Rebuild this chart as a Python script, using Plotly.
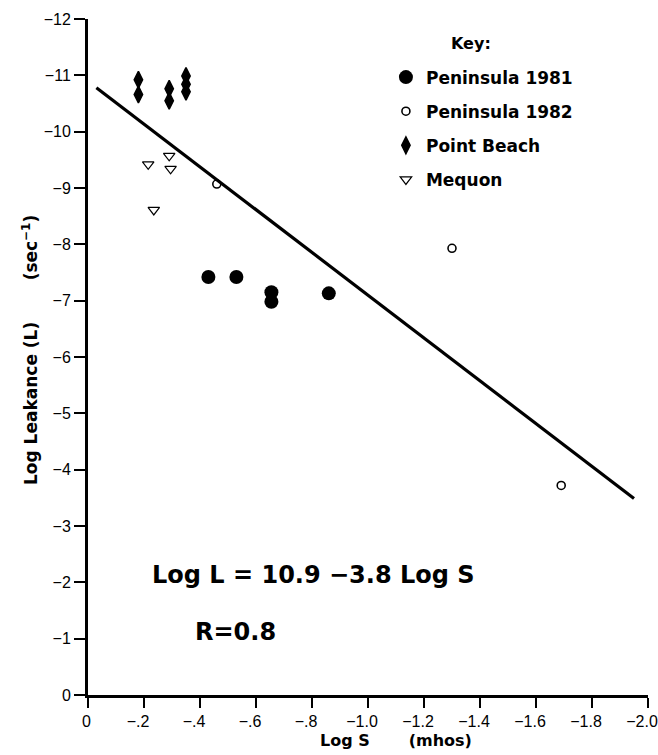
import plotly.graph_objects as go

# ---- data ----
pen81_x = [-0.43, -0.53, -0.655, -0.655, -0.86]
pen81_y = [-7.42, -7.42, -7.15, -6.98, -7.13]

pen82_x = [-0.46, -1.30, -1.69]
pen82_y = [-9.07, -7.93, -3.72]

pb_x = [-0.18, -0.18, -0.29, -0.29, -0.35, -0.35, -0.35]
pb_y = [-10.92, -10.66, -10.76, -10.55, -10.99, -10.84, -10.71]

meq_x = [-0.215, -0.29, -0.295, -0.235]
meq_y = [-9.42, -9.57, -9.34, -8.61]

fit_x = [-0.03, -1.95]
fit_y = [-10.78, -3.49]

x_ticks = [0, -0.2, -0.4, -0.6, -0.8, -1.0, -1.2, -1.4, -1.6, -1.8, -2.0]
x_ticktext = ["\u00a0\u00a00", "\u2212.2", "\u2212.4", "\u2212.6", "\u2212.8", "\u22121.0",
              "\u22121.2", "\u22121.4", "\u22121.6", "\u22121.8", "\u22122.0"]
y_ticks = [0, -1, -2, -3, -4, -5, -6, -7, -8, -9, -10, -11, -12]
y_ticktext = ["0"] + ["\u2212%d" % k for k in range(1, 13)]

BOLD = "DejaVu Sans"
NB = "\u00a0"

fig = go.Figure()

fig.add_trace(go.Scatter(x=fit_x, y=fit_y, mode="lines",
                         line=dict(color="black", width=3.2),
                         showlegend=False, hoverinfo="skip"))

fig.add_trace(go.Scatter(x=pen81_x, y=pen81_y, mode="markers", name="Peninsula 1981",
                         legendgroup="a",
                         marker=dict(symbol="circle", size=14, color="black")))
fig.add_trace(go.Scatter(x=pen82_x, y=pen82_y, mode="markers", name="Peninsula 1982",
                         legendgroup="b",
                         marker=dict(symbol="circle-open", size=8, color="black",
                                     line=dict(width=1.6, color="black"))))
fig.add_trace(go.Scatter(x=pb_x, y=pb_y, mode="markers", name="Point Beach",
                         legendgroup="c",
                         marker=dict(symbol="diamond-tall", size=12, color="black",
                                     line=dict(width=1.5, color="black"))))
fig.add_trace(go.Scatter(x=meq_x, y=meq_y, mode="markers", name="Mequon",
                         legendgroup="d",
                         marker=dict(symbol="triangle-down-open", size=10, color="black",
                                     line=dict(width=1.2, color="black"))))

fig.update_layout(
    width=658, height=755,
    margin=dict(l=88, r=10, t=19, b=60, autoexpand=False),
    paper_bgcolor="white", plot_bgcolor="white",
    font=dict(family="Liberation Sans", color="black", size=16),
    legend=dict(x=0.532, y=0.94, xanchor="left", yanchor="top",
                font=dict(family=BOLD, size=17, color="black", weight="bold"),
                tracegroupgap=9, itemwidth=30, bgcolor="rgba(0,0,0,0)"),
    xaxis=dict(range=[0, -2.0], tickvals=x_ticks, ticktext=x_ticktext,
               showgrid=False, zeroline=False, showline=True, linewidth=3,
               linecolor="black", ticks="outside", ticklen=10, tickwidth=2,
               tickcolor="black", tickfont=dict(size=16), automargin=False,
               ticklabelshift=6, ticklabeloverflow="allow"),
    yaxis=dict(range=[0, -12], tickvals=y_ticks, ticktext=y_ticktext,
               showgrid=False, zeroline=False, showline=True, linewidth=3,
               linecolor="black", ticks="outside", ticklen=11, tickwidth=2,
               tickcolor="black", tickfont=dict(size=16), automargin=False),
    showlegend=True,
)

def note(text, x, y, size, angle=0):
    fig.add_annotation(text=text, x=x, y=y, xref="paper", yref="paper",
                       xanchor="center", yanchor="middle", textangle=angle,
                       showarrow=False, font=dict(family=BOLD, size=size, color="black"))

note("<b>Key:</b>", 0.684, 0.964, 16)
note("<b>Log Leakance (L)" + NB * 7 + "(sec<sup>\u22121</sup>)</b>", -0.104, 0.51, 17, -90)
note("<b>Log S" + NB * 7 + "(mhos)</b>", 0.55, -0.0666, 16)
note("<b>Log L = 10.9 \u22123.8 Log S</b>", 0.402, 0.1775, 24)
note("<b>R=0.8</b>", 0.2625, 0.0932, 24)

fig.write_html("out.html", config={"displayModeBar": False},
               post_script="document.body.style.margin='0px';document.body.style.overflow='hidden';")
